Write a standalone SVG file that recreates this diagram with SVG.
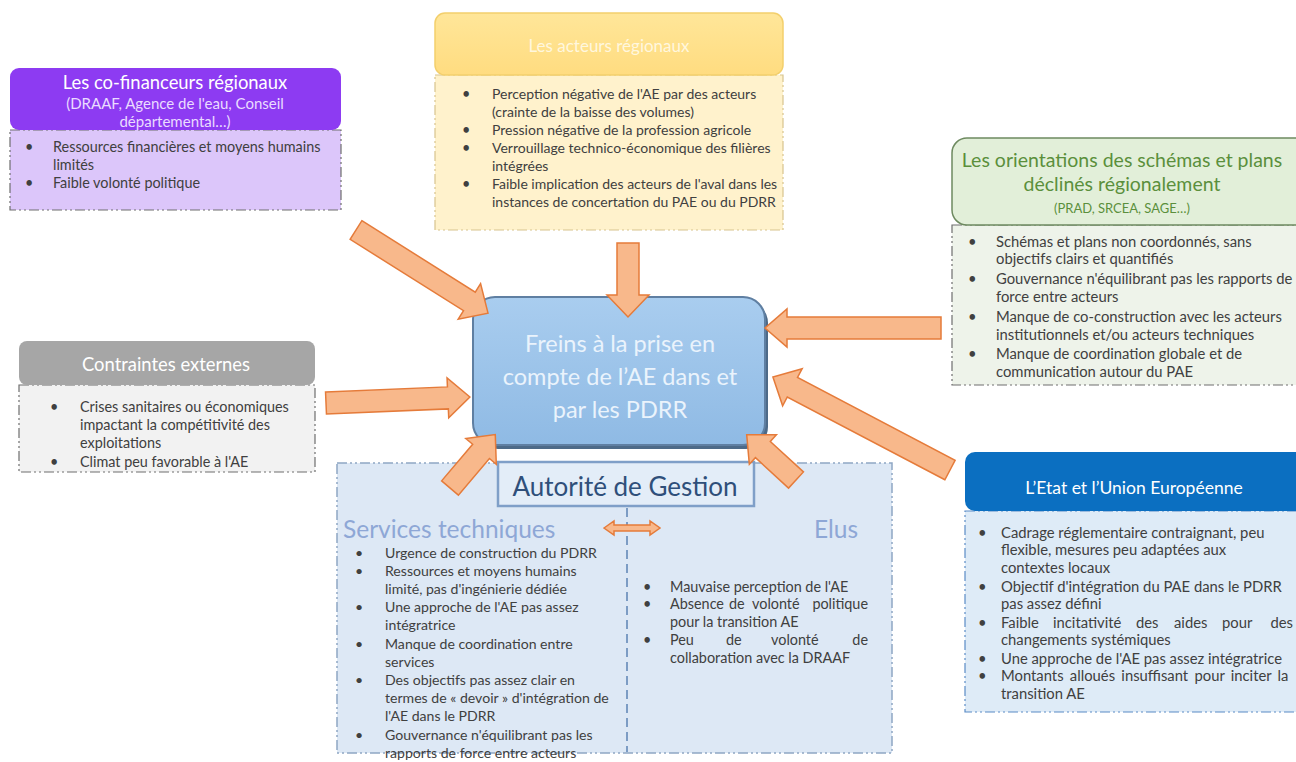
<svg xmlns="http://www.w3.org/2000/svg" width="1296" height="762" viewBox="0 0 1296 762">
  <style>
    text { font-family: Lato, "Liberation Sans", Arial, sans-serif; }
    .b { font-size: 14.4px; fill: #404040; }
    .bw { font-size: 14.8px; fill: #404040; }
    .bs { font-size: 14.1px; fill: #404040; }
    .hd { text-anchor: middle; }
    .end { text-anchor: end; }
    .dash { stroke: #6e6e6e; stroke-width: 1.2; stroke-dasharray: 10 3 2 3 2 3; }
    .arrow { fill: #f8b88b; stroke: #e57b3a; stroke-width: 1.5; stroke-linejoin: miter; }
    .sub { font-size: 24.5px; fill: #8ea7d6; }
  </style>
  <defs>
    <linearGradient id="gCentre" x1="0" y1="0" x2="0" y2="1">
      <stop offset="0" stop-color="#a9cdef"/>
      <stop offset="1" stop-color="#8fbae4"/>
    </linearGradient>
    <linearGradient id="gYellow" x1="0" y1="0" x2="0" y2="1">
      <stop offset="0" stop-color="#ffe699"/>
      <stop offset="1" stop-color="#ffdc80"/>
    </linearGradient>
  </defs>

  <rect width="1296" height="762" fill="#ffffff"/>

  <!-- Co-financeurs -->
  <g id="cofinanceurs">
    <rect x="10" y="130" width="331" height="80" fill="#dcc6fa" class="dash"/>
    <rect x="10" y="68" width="331" height="62" rx="9" fill="#8d3bf2"/>
    <text class="hd" x="175" y="89" font-size="18.4" fill="#ffffff">Les co-financeurs régionaux</text>
    <text class="hd" x="175" y="109" font-size="15" fill="#eadcff">(DRAAF, Agence de l'eau, Conseil</text>
    <text class="hd" x="175" y="127" font-size="15" fill="#eadcff">départemental…)</text>
    <text class="b" x="25" y="152">•</text>
    <text class="b" x="53" y="152">Ressources financières et moyens humains</text>
    <text class="b" x="53" y="170">limités</text>
    <text class="b" x="25" y="188">•</text>
    <text class="b" x="53" y="188">Faible volonté politique</text>
  </g>

  <!-- Acteurs régionaux -->
  <g id="acteurs">
    <rect x="435" y="75" width="348" height="155" fill="#fff2cc" stroke="#d8c48e" stroke-width="1.2" stroke-dasharray="10 3 2 3 2 3"/>
    <rect x="435" y="13" width="348" height="62" rx="10" fill="url(#gYellow)" stroke="#f3cf6c" stroke-width="1.5"/>
    <text class="hd" x="609" y="52" font-size="17" fill="#fff7de">Les acteurs régionaux</text>
    <text class="b" x="462" y="99" font-size="14">•</text>
    <text class="b" x="492" y="99" style="font-size:14px">Perception négative de l'AE par des acteurs</text>
    <text class="b" x="492" y="117" style="font-size:14px">(crainte de la baisse des volumes)</text>
    <text class="b" x="462" y="135">•</text>
    <text class="b" x="492" y="135" style="font-size:14px">Pression négative de la profession agricole</text>
    <text class="b" x="462" y="153">•</text>
    <text class="b" x="492" y="153" style="font-size:14px">Verrouillage technico-économique des filières</text>
    <text class="b" x="492" y="171" style="font-size:14px">intégrées</text>
    <text class="b" x="462" y="189">•</text>
    <text class="b" x="492" y="189" style="font-size:14px">Faible implication des acteurs de l'aval dans les</text>
    <text class="b" x="492" y="207" style="font-size:14px">instances de concertation du PAE ou du PDRR</text>
  </g>

  <!-- Orientations des schémas et plans -->
  <g id="orientations">
    <rect x="952" y="225" width="350" height="160" fill="#eef3ea" class="dash"/>
    <rect x="952" y="138" width="360" height="87" rx="15" fill="#e2efd9" stroke="#6e8a60" stroke-width="1.5"/>
    <text class="hd" x="1122" y="167" font-size="19.5" fill="#5b8f3c">Les orientations des schémas et plans</text>
    <text class="hd" x="1122" y="191" font-size="19.5" fill="#5b8f3c">déclinés régionalement</text>
    <text class="hd" x="1122" y="213" font-size="13" fill="#5b8f3c">(PRAD, SRCEA, SAGE…)</text>
    <text class="bw" x="968" y="247">•</text>
    <text class="bw" x="996" y="247">Schémas et plans non coordonnés, sans</text>
    <text class="bw" x="996" y="264">objectifs clairs et quantifiés</text>
    <text class="bw" x="968" y="284">•</text>
    <text class="bw" x="996" y="284">Gouvernance n'équilibrant  pas les rapports de</text>
    <text class="bw" x="996" y="302">force entre acteurs</text>
    <text class="bw" x="968" y="322">•</text>
    <text class="bw" x="996" y="322">Manque de co-construction avec les acteurs</text>
    <text class="bw" x="996" y="340">institutionnels et/ou acteurs techniques</text>
    <text class="bw" x="968" y="359">•</text>
    <text class="bw" x="996" y="359">Manque de coordination globale et de</text>
    <text class="bw" x="996" y="377">communication autour du PAE</text>
  </g>

  <!-- Contraintes externes -->
  <g id="contraintes">
    <rect x="19" y="385" width="296" height="87" fill="#f2f2f2" class="dash"/>
    <rect x="19" y="341" width="296" height="44" rx="8" fill="#a6a6a6"/>
    <text class="hd" x="166" y="371" font-size="18.4" fill="#ffffff">Contraintes externes</text>
    <text class="b" x="50" y="412">•</text>
    <text class="b" x="80" y="412">Crises sanitaires ou économiques</text>
    <text class="b" x="80" y="430">impactant la compétitivité des</text>
    <text class="b" x="80" y="448">exploitations</text>
    <text class="b" x="50" y="467">•</text>
    <text class="b" x="80" y="467">Climat peu favorable à l'AE</text>
  </g>

  <!-- Autorité de Gestion -->
  <g id="autorite">
    <rect x="337" y="463" width="555" height="290" fill="#dde8f5" stroke="#8fa6c4" stroke-width="1.5" stroke-dasharray="10 3 2 3 2 3"/>
    <line x1="627" y1="508" x2="627" y2="752" stroke="#7c9cc4" stroke-width="2" stroke-dasharray="9 5"/>
    <rect x="498" y="462" width="256" height="44" fill="#e3edf8" stroke="#7f9fc8" stroke-width="2.5"/>
    <text class="hd" x="625" y="496" font-size="26" fill="#2f4f7a">Autorité de Gestion</text>
    <text class="sub" x="343" y="538">Services techniques</text>
    <text class="sub end" x="858" y="538">Elus</text>

    <text class="bs" x="355" y="558">•</text>
    <text class="bs" x="385" y="558">Urgence de construction du PDRR</text>
    <text class="bs" x="355" y="576">•</text>
    <text class="bs" x="385" y="576">Ressources et moyens humains</text>
    <text class="bs" x="385" y="594">limité, pas d'ingénierie  dédiée</text>
    <text class="bs" x="355" y="612">•</text>
    <text class="bs" x="385" y="612">Une approche de l'AE pas assez</text>
    <text class="bs" x="385" y="630">intégratrice</text>
    <text class="bs" x="355" y="649">•</text>
    <text class="bs" x="385" y="649">Manque de coordination entre</text>
    <text class="bs" x="385" y="667">services</text>
    <text class="bs" x="355" y="685">•</text>
    <text class="bs" x="385" y="685">Des objectifs pas assez clair en</text>
    <text class="bs" x="385" y="703">termes de « devoir » d'intégration de</text>
    <text class="bs" x="385" y="721">l'AE dans le PDRR</text>
    <text class="bs" x="355" y="740">•</text>
    <text class="bs" x="385" y="740">Gouvernance  n'équilibrant  pas les</text>
    <text class="bs" x="385" y="758">rapports de force entre acteurs</text>

    <text class="b" x="643" y="592">•</text>
    <text class="b" x="670" y="592">Mauvaise perception de l'AE</text>
    <text class="b" x="643" y="609">•</text>
    <text class="b" y="609"><tspan x="670">Absence</tspan><tspan x="729">de</tspan><tspan x="752">volonté</tspan></text>
    <text class="b end" x="868" y="609">politique</text>
    <text class="b" x="670" y="627">pour la transition AE</text>
    <text class="b" x="643" y="645">•</text>
    <text class="b" y="645"><tspan x="670">Peu</tspan><tspan x="726">de</tspan><tspan x="771">volonté</tspan></text>
    <text class="b end" x="868" y="645">de</text>
    <text class="b" x="670" y="663">collaboration  avec la DRAAF</text>
  </g>

  <!-- Etat et Union Européenne -->
  <g id="etat">
    <rect x="965" y="511" width="340" height="201" fill="#deebf7" stroke="#5b8cc6" stroke-width="1.2" stroke-dasharray="10 3 2 3 2 3"/>
    <rect x="965" y="452" width="345" height="59" rx="10" fill="#0b6fc1"/>
    <text class="hd" x="1134" y="494" font-size="17.5" fill="#ffffff">L’Etat et l’Union Européenne</text>
    <text class="bw" x="978" y="538">•</text>
    <text class="bw" x="1001" y="538">Cadrage réglementaire  contraignant, peu</text>
    <text class="bw" x="1001" y="555">flexible, mesures peu adaptées aux</text>
    <text class="bw" x="1001" y="573">contextes locaux</text>
    <text class="bw" x="978" y="592">•</text>
    <text class="bw" x="1001" y="592">Objectif d'intégration du PAE dans le PDRR</text>
    <text class="bw" x="1001" y="609">pas assez défini</text>
    <text class="bw" x="978" y="628">•</text>
    <text class="bw" y="628"><tspan x="1001">Faible</tspan><tspan x="1053">incitativité</tspan><tspan x="1136">des</tspan><tspan x="1174">aides</tspan><tspan x="1222">pour</tspan></text>
    <text class="bw end" x="1293" y="628">des</text>
    <text class="bw" x="1001" y="645">changements  systémiques</text>
    <text class="bw" x="978" y="664">•</text>
    <text class="bw" x="1001" y="664">Une approche de l'AE pas assez intégratrice</text>
    <text class="bw" x="978" y="681">•</text>
    <text class="bw" x="1001" y="681" word-spacing="2.5">Montants alloués insuffisant pour inciter la</text>
    <text class="bw" x="1001" y="699">transition AE</text>
  </g>

  <!-- Central node -->
  <g id="freins">
    <rect x="476" y="301" width="292" height="148" rx="22" fill="#4d6a88"/>
    <rect x="473" y="297" width="292" height="148" rx="22" fill="url(#gCentre)" stroke="#5f7fa2" stroke-width="2"/>
    <text class="hd" x="620" y="352" font-size="23.5" fill="#eaf3fc">Freins à la prise en</text>
    <text class="hd" x="620" y="385" font-size="23.5" fill="#eaf3fc">compte de l’AE dans et</text>
    <text class="hd" x="620" y="418" font-size="23.5" fill="#eaf3fc">par les PDRR</text>
  </g>

  <!-- Connectors: block arrows drawn along +x, then placed -->
  <g id="connectors">
    <!-- co-financeurs -> centre -->
    <path class="arrow" transform="translate(356,230) rotate(32.2)" d="M0,-11 L134,-11 L134,-21 L156,0 L134,21 L134,11 L0,11 Z"/>
    <!-- acteurs -> centre -->
    <path class="arrow" transform="translate(628,243) rotate(90)" d="M0,-11 L52,-11 L52,-21 L74,0 L52,21 L52,11 L0,11 Z"/>
    <!-- orientations -> centre -->
    <path class="arrow" transform="translate(941,328) rotate(180)" d="M0,-11 L154,-11 L154,-19 L176,0 L154,19 L154,11 L0,11 Z"/>
    <!-- contraintes -> centre -->
    <path class="arrow" transform="translate(326,403) rotate(-2.4)" d="M0,-11 L122,-11 L122,-20 L144,0 L122,20 L122,11 L0,11 Z"/>
    <!-- Etat -> centre -->
    <path class="arrow" transform="translate(950,470) rotate(-152.3)" d="M0,-11 L178,-11 L178,-21 L200,0 L178,21 L178,11 L0,11 Z"/>
    <!-- services techniques -> centre -->
    <path class="arrow" transform="translate(450,488) rotate(-49.7)" d="M0,-11 L48,-11 L48,-20 L70,0 L48,20 L48,11 L0,11 Z"/>
    <!-- élus -> centre -->
    <path class="arrow" transform="translate(796,480) rotate(-137.4)" d="M0,-11 L45,-11 L45,-20 L67,0 L45,20 L45,11 L0,11 Z"/>
    <!-- services techniques <-> élus -->
    <path class="arrow" stroke-width="1.2" d="M604,528 L614,521 L614,525 L650,525 L650,521 L660,528 L650,535 L650,531 L614,531 L614,535 Z"/>
  </g>
</svg>
